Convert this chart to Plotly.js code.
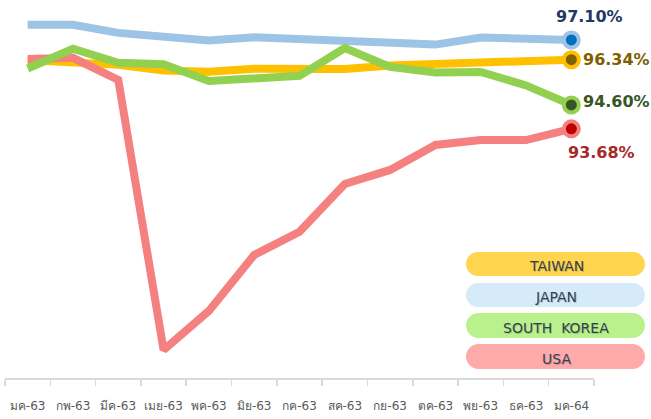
<!DOCTYPE html>
<html><head><meta charset="utf-8">
<script src="https://cdn.plot.ly/plotly-3.0.1.min.js"></script>
<style>html,body{margin:0;padding:0;background:#fff;}#c{width:651px;height:419px;}</style>
</head><body><div id="c"></div>
<script>
var months = ["มค-63","กพ-63","มีค-63","เมย-63","พค-63","มิย-63","กค-63","สค-63","กย-63","ตค-63","พย-63","ธค-63","มค-64"];
var japan  = [97.68,97.68,97.37,97.22,97.08,97.20,97.12,97.06,97.00,96.92,97.19,97.18,97.10];
var taiwan = [96.33,96.27,96.14,95.92,95.88,95.99,95.97,95.98,96.12,96.18,96.22,96.28,96.34];
var korea  = [96.00,96.76,96.22,96.16,95.52,95.60,95.72,96.79,96.06,95.85,95.87,95.35,94.60];
var usa    = [96.37,96.41,95.56,85.18,86.68,88.83,89.72,91.56,92.10,93.06,93.25,93.25,93.68];
var seriesNames = ["TAIWAN","JAPAN","SOUTH  KOREA","USA"];
var endLabels = ["97.10%","96.34%","94.60%","93.68%"];

var cBlue="#9DC3E6", cYellow="#FFC000", cGreen="#92D050", cRed="#F4817F";
var last = months.length-1;

function lineTrace(y,color){
  return {x:months,y:y,type:'scatter',mode:'lines',line:{color:color,width:8},hoverinfo:'skip',showlegend:false};
}
function endTrace(y,outer,inner){
  return {x:[months[last]],y:[y[last]],type:'scatter',mode:'markers',
    marker:{size:15,color:inner,line:{color:outer,width:4}},showlegend:false,hoverinfo:'skip'};
}
var data=[
  lineTrace(taiwan,cYellow),
  lineTrace(japan,cBlue),
  lineTrace(usa,cRed),
  lineTrace(korea,cGreen),
  endTrace(japan,cBlue,"#0070C0"),
  endTrace(taiwan,cYellow,"#7F6000"),
  endTrace(korea,cGreen,"#375623"),
  endTrace(usa,cRed,"#C00000")
];

// plot area in pixels
var L=5,R=594,T=10,B=378;
function px(x){return (x-L)/(R-L);}
function py(y){return (B-y)/(B-T);}
function pill(x0,x1,y0,y1,color){
  var r=(y1-y0)/2, k=0.5523*r, ym=(y0+y1)/2;
  var a=x0+r, b=x1-r;
  var p="M"+px(a)+","+py(y0)+" L"+px(b)+","+py(y0)+
    " C"+px(b+k)+","+py(y0)+" "+px(x1)+","+py(ym-k)+" "+px(x1)+","+py(ym)+
    " C"+px(x1)+","+py(ym+k)+" "+px(b+k)+","+py(y1)+" "+px(b)+","+py(y1)+
    " L"+px(a)+","+py(y1)+
    " C"+px(a-k)+","+py(y1)+" "+px(x0)+","+py(ym+k)+" "+px(x0)+","+py(ym)+
    " C"+px(x0)+","+py(ym-k)+" "+px(a-k)+","+py(y0)+" "+px(a)+","+py(y0)+" Z";
  return {type:'path',xref:'paper',yref:'paper',path:p,fillcolor:color,line:{width:0},layer:'below'};
}
var pillColors=["#FFD54F","#D6EBFA","#B9F28C","#FFAAAA"];
var pillY=[[252,276],[283,307],[313,338],[344,369]];
var shapes=[], annotations=[];
for(var i=0;i<4;i++){
  shapes.push(pill(466,645,pillY[i][0],pillY[i][1],pillColors[i]));
  var yc=(pillY[i][0]+pillY[i][1])/2+2;
  annotations.push({xref:'paper',yref:'paper',x:px(557),y:py(yc+1),text:seriesNames[i],showarrow:false,
    xanchor:'center',yanchor:'middle',font:{family:'DejaVu Sans',size:14,color:'rgba(0,0,0,0.18)'}});
  annotations.push({xref:'paper',yref:'paper',x:px(556),y:py(yc),text:seriesNames[i],showarrow:false,
    xanchor:'center',yanchor:'middle',font:{family:'DejaVu Sans',size:14,color:'#333F50'}});
}
annotations.push({x:months[last],y:japan[last],text:endLabels[0],showarrow:false,xanchor:'center',yanchor:'bottom',xshift:18,yshift:12,
  font:{family:'DejaVu Sans',size:16,color:'#1F3864',weight:'bold'}});
annotations.push({x:months[last],y:taiwan[last],text:endLabels[1],showarrow:false,xanchor:'left',xshift:10,
  font:{family:'DejaVu Sans',size:16,color:'#7F6000',weight:'bold'}});
annotations.push({x:months[last],y:korea[last],text:endLabels[2],showarrow:false,xanchor:'left',xshift:10,yshift:3,
  font:{family:'DejaVu Sans',size:16,color:'#375623',weight:'bold'}});
annotations.push({x:months[last],y:usa[last],text:endLabels[3],showarrow:false,xanchor:'center',yanchor:'top',xshift:30,yshift:-12,
  font:{family:'DejaVu Sans',size:16,color:'#A52A2A',weight:'bold'}});

var layout={
  width:651,height:419,
  margin:{l:L,r:651-R,t:T,b:419-B},
  paper_bgcolor:'#fff',plot_bgcolor:'#fff',
  showlegend:false,
  xaxis:{type:'category',range:[-0.5,12.5],showgrid:false,zeroline:false,automargin:false,
    showline:true,linecolor:'#D9D9D9',linewidth:2,ticks:'outside',tickson:'boundaries',
    ticklen:6,tickcolor:'#D9D9D9',tickwidth:1.5,tickangle:0,ticklabelstandoff:16,
    tickfont:{family:'Tahoma, DejaVu Sans, sans-serif',size:12,color:'#595959'}},
  yaxis:{range:[84.1,98.25],visible:false,showgrid:false,zeroline:false},
  shapes:shapes,annotations:annotations
};
Plotly.newPlot('c',data,layout,{displayModeBar:false,staticPlot:true});
</script></body></html>
